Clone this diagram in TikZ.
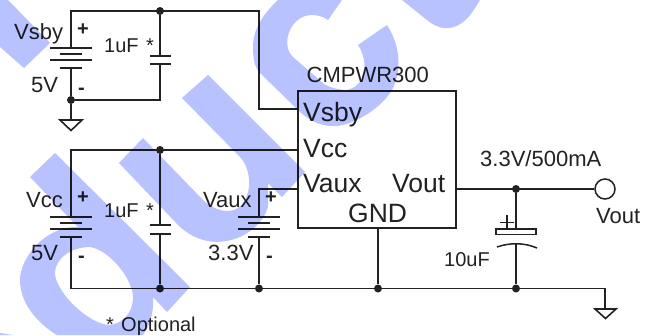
\documentclass[tikz,border=0pt]{standalone}
\usepackage{fontspec}
\setmainfont{Liberation Sans}
\definecolor{ink}{HTML}{222222}
\definecolor{mark}{HTML}{B8C2FF}
\tikzset{
  wire/.style={draw=ink,line width=1.5pt},
  plate/.style={draw=ink,line width=1.5pt},
  jdot/.style={circle,fill=ink,inner sep=0pt,minimum size=8pt},
  gndsym/.style={draw=ink,fill=white,line width=1.6pt,line join=miter},
  lab/.style={anchor=base west,inner sep=0pt,text=ink,font=\fontsize{22}{24}\selectfont},
  labm/.style={lab,font=\fontsize{20}{22}\selectfont},
  labp/.style={lab,font=\fontsize{20}{22}\selectfont\bfseries},
  labl/.style={lab,font=\fontsize{26.5}{28}\selectfont},
  stain/.style={fill=mark,even odd rule}
}
\begin{document}
\begin{tikzpicture}[x=1pt,y=-1pt]
\useasboundingbox (0,0) rectangle (652,335);
\clip (0,0) rectangle (652,335);
\fill[white] (0,0) rectangle (652,335);
% junctions
\coordinate (t1) at (71,11);
\node[jdot] (t2) at (160,11) {};
\coordinate (t3) at (259,11);
\coordinate (t4) at (259,109);
\coordinate (pinsby) at (298,109);
\node[jdot] (b1) at (71,100) {};
\coordinate (b2) at (160,100);
\coordinate (g1) at (71,120);
\coordinate (m1) at (71,150);
\node[jdot] (m2) at (160,150) {};
\coordinate (pincc) at (298,150);
\coordinate (l1) at (71,288.5);
\node[jdot] (l2) at (160,288.5) {};
\node[jdot] (l3) at (259,288.5) {};
\node[jdot] (l4) at (378,288.5) {};
\node[jdot] (l5) at (516,288.5) {};
\coordinate (l6) at (605,288.5);
\coordinate (g2) at (605,309);
\coordinate (a1) at (259,189);
\coordinate (pinaux) at (298,189);
\coordinate (pingnd) at (378,228);
\coordinate (pinout) at (456,189);
\node[jdot] (o1) at (516,189) {};
\node[circle,draw=ink,line width=1.5pt,fill=white,inner sep=0pt,minimum size=20pt] (vo) at (605,189) {};
% battery and capacitor terminals
\coordinate (ba) at (71,48); \coordinate (bb) at (71,68);
\coordinate (ca) at (160,56); \coordinate (cb) at (160,64);
\coordinate (da) at (71,217); \coordinate (db) at (71,237);
\coordinate (ea) at (160,225); \coordinate (eb) at (160,234);
\coordinate (fa) at (259,217); \coordinate (fb) at (259,237);
\coordinate (ha) at (516,229); \coordinate (hb) at (516,243);
% wires
\draw[wire] (b1) -- (bb); \draw[wire] (ba) -- (t1) -- (t3) -- (t4) -- (pinsby);
\draw[wire] (t2) -- (ca); \draw[wire] (cb) -- (b2) -- (b1);
\draw[wire] (b1) -- (g1);
\draw[wire] (pincc) -- (m1) -- (da); \draw[wire] (db) -- (l1) -- (l6) -- (g2);
\draw[wire] (m2) -- (ea); \draw[wire] (eb) -- (l2);
\draw[wire] (fa) -- (a1) -- (pinaux); \draw[wire] (fb) -- (l3);
\draw[wire] (pingnd) -- (l4);
\draw[wire] (pinout) -- (vo);
\draw[wire] (o1) -- (ha); \draw[wire] (hb) -- (l5);
% plates
\foreach \xx/\yy in {71/48,71/60,71/217,71/229,259/217,259/229} \draw[plate] (\xx-21,\yy) -- (\xx+21,\yy);
\foreach \xx/\yy in {71/54,71/68,71/223,71/237,259/223,259/237} \draw[plate] (\xx-11,\yy) -- (\xx+11,\yy);
\foreach \xx/\yy in {160/56,160/64,160/225,160/234} \draw[plate] (\xx-10.5,\yy) -- (\xx+10.5,\yy);
\draw[plate] (496,229) rectangle (536,234.5);
\draw[plate] (497,247) .. controls (510,242.5) and (524,242.5) .. (537,248);
\draw[plate] (500,222.5) -- (513.5,222.5) (507,215) -- (507,229);
% grounds
\draw[gndsym] (60,120) -- (82,120) -- (71,130.5) -- cycle;
\draw[gndsym] (595,309) -- (616,309) -- (605.5,318.5) -- cycle;
% chip
\node[draw=ink,line width=1.5pt,minimum width=158pt,minimum height=137pt,inner sep=0pt] (chip) at (377,159.5) {};
% labels
\node[lab] (n1) at (14,39) {Vsby};
\node[lab] (n2) at (31,92) {5V};
\node[labp] (n3) at (77,35) {+};
\node[labp] (n4) at (78,94) {-};
\node[labm] (n5) at (104,52) {1uF};
\node[labm] (n6) at (146,52) {*};
\node[lab] (n7) at (26,207) {Vcc};
\node[lab] (n8) at (31,260) {5V};
\node[labp] (n9) at (77,203) {+};
\node[labp] (n10) at (78,262) {-};
\node[labm] (n11) at (104,217) {1uF};
\node[labm] (n12) at (146,217) {*};
\node[lab] (n13) at (203,207) {Vaux};
\node[lab] (n14) at (208,260) {3.3V};
\node[labp] (n15) at (265,203) {+};
\node[labp] (n16) at (266,262) {-};
\node[labm] (n17) at (106,331) {*};
\node[labm] (n18) at (121,331) {Optional};
\node[lab] (n19) at (306.5,82) {CMPWR300};
\node[labl] (n20) at (303,121) {Vsby};
\node[labl] (n21) at (303,157) {Vcc};
\node[labl] (n22) at (303,192) {Vaux};
\node[labl] (n23) at (392,192) {Vout};
\node[labl] (n24) at (348,222) {GND};
\node[lab] (n25) at (480,166) {3.3V/500mA};
\node[lab] (n26) at (596,223) {Vout};
\node[labm] (n27) at (444,266) {10uF};
% watermark
\begin{scope}[blend mode=multiply]
\fill[stain] (8,0) -- (50,43) -- (24,68) -- (0,47) -- (0,0) -- cycle;
\fill[stain] (0,333) -- (13,335) -- (0,335) -- cycle;
\fill[stain] (55,153) -- (190,287) -- (167,312) -- (153,297)
  .. controls (154,312) and (150,325) .. (143,335) -- (57,335)
  .. controls (40,325) and (20,305) .. (20,280)
  .. controls (20,258) and (45,226) .. (78,227) -- (30,177) -- cycle
  (55,273) .. controls (55,258) and (72,247) .. (90,247)
  .. controls (110,250) and (133,280) .. (133,297)
  .. controls (133,315) and (120,325) .. (108,325)
  .. controls (85,322) and (55,290) .. (55,273) -- cycle;
\fill[stain] (143,138) -- (203,200) .. controls (212,209) and (232,218) .. (243,203)
  .. controls (253,190) and (250,167) .. (240,157) -- (182,98) -- (208,75) -- (305,172) -- (282,197) -- (268,183) -- (268,207)
  .. controls (260,235) and (215,258) .. (180,227) -- (119,163) -- cycle;
\fill[stain] (278,0) .. controls (262,15) and (253,30) .. (253,47)
  .. controls (253,60) and (255,68) .. (260,73) -- (298,110)
  .. controls (310,122) and (322,126) .. (333,126)
  .. controls (350,127) and (380,110) .. (392,90)
  .. controls (400,75) and (403,50) .. (387,25) -- (358,45)
  .. controls (368,60) and (368,85) .. (347,90)
  .. controls (335,90) and (325,85) .. (323,83) -- (293,57)
  .. controls (280,45) and (290,15) .. (312,15)
  .. controls (318,15) and (324,17) .. (328,20) -- (342,0) -- cycle;
\fill[stain] (402,0) -- (427,20) .. controls (438,29) and (450,32) .. (463,22) .. controls (470,17) and (475,8) .. (480,0) -- cycle;
\end{scope}
\end{tikzpicture}
\end{document}
